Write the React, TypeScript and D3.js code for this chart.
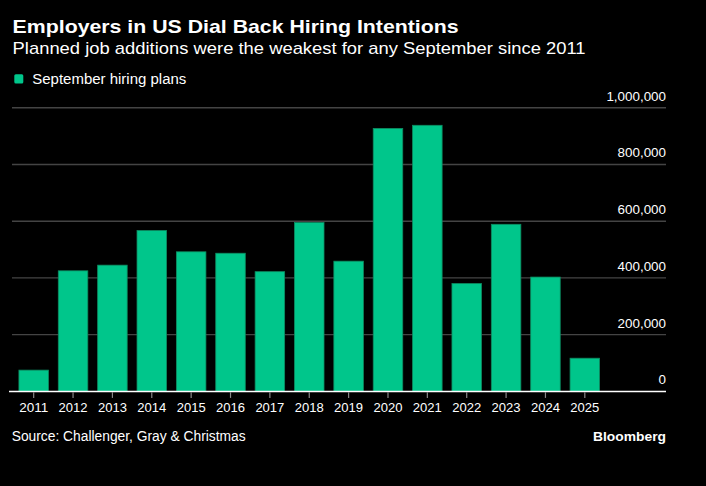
import React from "react";
import * as d3 from "d3";

const years = ["2011","2012","2013","2014","2015","2016","2017","2018","2019","2020","2021","2022","2023","2024","2025"];
const hiringPlans = [75000, 425000, 445000, 567000, 492000, 487000, 422000, 595000, 459000, 927000, 938000, 380000, 589000, 403000, 117000];
const yTicks = [0, 200000, 400000, 600000, 800000, 1000000];

const title = "Employers in US Dial Back Hiring Intentions";
const subtitle = "Planned job additions were the weakest for any September since 2011";
const legendLabel = "September hiring plans";
const source = "Source: Challenger, Gray & Christmas";

const W = 706, H = 486;
const FONT = "'Liberation Sans', Arial, sans-serif";

export default function App() {
  const x = d3.scaleBand<string>().domain(years).range([14, 604.5]).paddingInner(0.25).paddingOuter(0.125);
  const y = d3.scaleLinear().domain([0, 1000000]).range([391.4, 107.7]);
  const fmt = d3.format(",");
  const left = 12, right = 666;
  return (
    <svg width={W} height={H} style={{ position: "absolute", left: 0, top: 0, background: "#000" }}>
      <rect x={0} y={0} width={W} height={H} fill="#000" />
      <text x={12.6} y={33.3} fill="#fff" fontFamily={FONT} fontWeight="bold" fontSize={19} textLength={446} lengthAdjust="spacingAndGlyphs">{title}</text>
      <text x={12.6} y={54.3} fill="#fff" fontFamily={FONT} fontSize={17} textLength={573} lengthAdjust="spacingAndGlyphs">{subtitle}</text>
      <rect x={14.3} y={74.2} width={9} height={9.3} rx={1.5} fill="#00c68b" />
      <text x={32.3} y={84} fill="#fff" fontFamily={FONT} fontSize={14} textLength={154} lengthAdjust="spacingAndGlyphs">{legendLabel}</text>
      {yTicks.filter(t => t > 0).map(t => (
        <line key={"g" + t} x1={left} x2={right} y1={y(t)} y2={y(t)} stroke="#444" strokeWidth={1.4} />
      ))}
      {yTicks.map(t => (
        <text key={"l" + t} x={right} y={y(t) - 7} textAnchor="end" fill="#fff" fontFamily={FONT} fontSize={13.4}>{fmt(t)}</text>
      ))}
      {years.map((yr, i) => (
        <rect key={yr} x={x(yr)} y={y(hiringPlans[i])} width={x.bandwidth()} height={y(0) - y(hiringPlans[i])}
          fill="#00c68b" stroke="#0d8c61" strokeWidth={0.8} />
      ))}
      <line x1={9} x2={right} y1={y(0)} y2={y(0)} stroke="#fff" strokeWidth={1.5} />
      {years.map(yr => {
        const cx = (x(yr) as number) + x.bandwidth() / 2;
        return (
          <g key={"t" + yr}>
            <line x1={cx} x2={cx} y1={y(0) + 0.75} y2={y(0) + 6.5} stroke="#888" strokeWidth={1.2} />
            <text x={cx} y={411.5} textAnchor="middle" fill="#fff" fontFamily={FONT} fontSize={13.5} textLength={29} lengthAdjust="spacingAndGlyphs">{yr}</text>
          </g>
        );
      })}
      <text x={11.7} y={441} fill="#fff" fontFamily={FONT} fontSize={14} textLength={234} lengthAdjust="spacingAndGlyphs">{source}</text>
      <text x={right} y={441} textAnchor="end" fill="#fff" fontFamily={FONT} fontWeight="bold" fontSize={13.5} textLength={73} lengthAdjust="spacingAndGlyphs">Bloomberg</text>
    </svg>
  );
}
